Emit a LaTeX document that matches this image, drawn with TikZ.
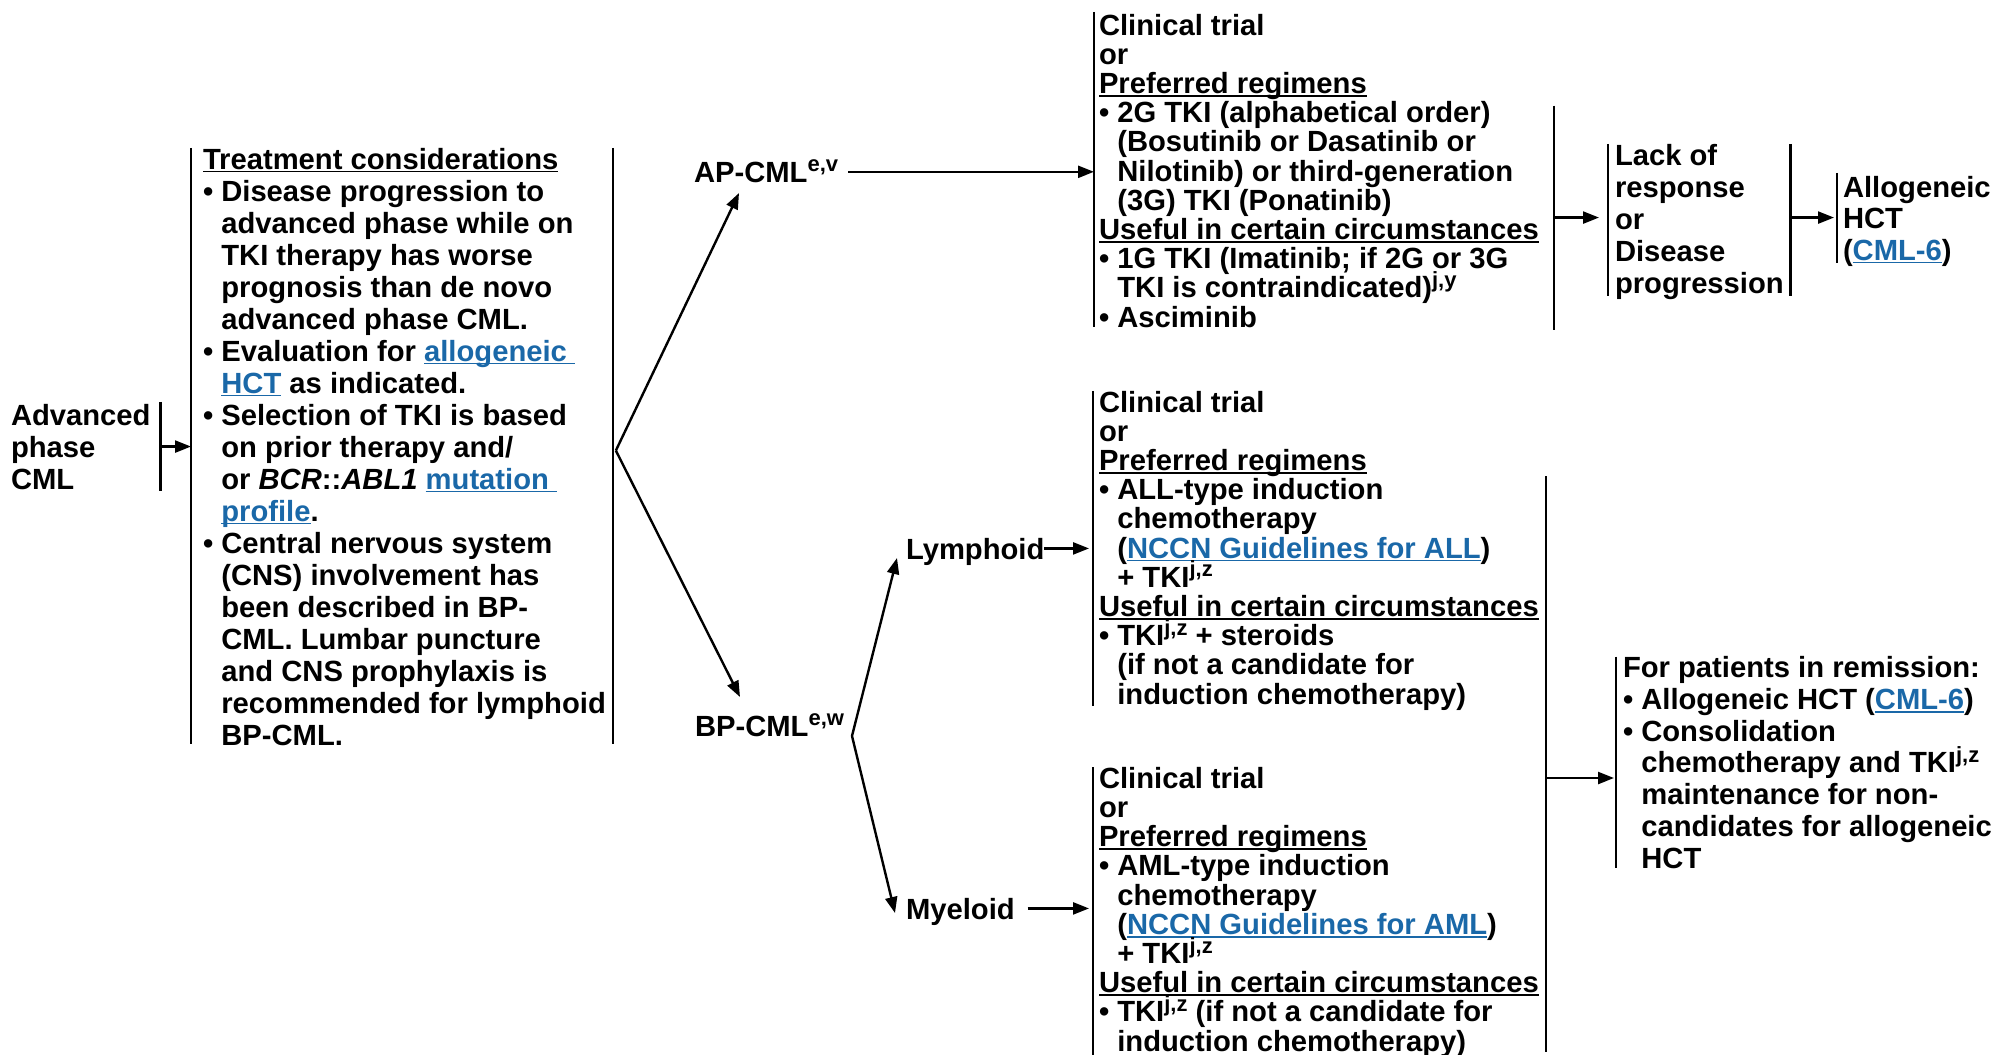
\documentclass[tikz,border=0pt]{standalone}
\usepackage{fontspec}
\setmainfont{Liberation Sans}
\usepackage{xcolor}
\usetikzlibrary{positioning,calc,arrows.meta}
\definecolor{nccnlink}{HTML}{1A68A8}
\newcommand{\fnt}[1]{\bfseries\fontsize{14.6pt}{#1}\selectfont}
\newcommand{\bul}{\textbullet\ }
\newcommand{\ind}{\hphantom{\textbullet\ }}
\newcommand{\ulx}[1]{\setbox0\hbox{#1}\rlap{\rule[-1.7pt]{\wd0}{0.8pt}}\box0}
\newcommand{\lnk}[1]{\textcolor{nccnlink}{\ulx{#1}}}
\newcommand{\note}[1]{\smash{\raisebox{5.2pt}{\fontsize{11pt}{11pt}\selectfont #1}}}
\tikzset{
  bar/.style={line width=1.3pt},
  arr/.style={line width=1.2pt, -{Triangle[length=8pt,width=6pt]}},
}

\begin{document}
\begin{tikzpicture}[x=0.5pt, y=-0.5pt,
  txt/.style={inner xsep=#1, inner ysep=0pt, outer sep=0pt, anchor=base west, align=left},
  txt/.default=0pt,
  lbl/.style={inner sep=0pt, outer sep=0pt, anchor=base west, text depth=0pt, font=\fnt{16pt}}]
\useasboundingbox (0,0) rectangle (1999,1055);

% ---- Entry and treatment considerations (nodes sit on their last baseline) ----
\node[txt=5pt, font=\fnt{16pt}] (adv) at (1,489) {Advanced\\phase\\CML};
\node[txt=6pt, font=\fnt{16pt}] (tc) at (191,745) {\ulx{Treatment considerations}\\
  \bul Disease progression to\\
  \ind advanced phase while on\\
  \ind TKI therapy has worse\\
  \ind prognosis than de novo\\
  \ind advanced phase CML.\\
  \bul Evaluation for \lnk{allogeneic\ }\\
  \ind\lnk{HCT} as indicated.\\
  \bul Selection of TKI is based\\
  \ind on prior therapy and/\\
  \ind or \textit{BCR}::\textit{ABL1} \lnk{mutation\ }\\
  \ind\lnk{profile}.\\
  \bul Central nervous system\\
  \ind (CNS) involvement has\\
  \ind been described in BP-\\
  \ind CML. Lumbar puncture\\
  \ind and CNS prophylaxis is\\
  \ind recommended for lymphoid\\
  \ind BP-CML.};
\draw[bar] ($(adv.north east)+(0,-2)$) -- ($(adv.south east)+(0,2)$);
\draw[bar] (tc.north west) -- ($(tc.south west)+(0,-1)$);
\draw[bar] ($(tc.north east)+(-5,0)$) -- ($(tc.south east)+(-5,-1)$);
\draw[arr] (adv.east) -- (adv.east -| tc.west);

% ---- Phase split ----
\node[lbl] (ap) at (694,182) {AP-CML\note{e,v}};
\node[lbl] (bp) at (695,736) {BP-CML\note{e,w}};
\coordinate (split1) at ($(tc.east)+(-2,4)$);
\draw[arr] (split1) -- ($(ap.base west)+(45,11)$);
\draw[arr] (split1) -- ($(bp.base west)+(45,-39)$);

% ---- AP-CML branch ----
\node[txt=2.5pt, font=\fnt{14.6pt}] (mt) at (1094,327) {Clinical trial\\
  or\\
  \ulx{Preferred regimens}\\
  \bul 2G TKI (alphabetical order)\\
  \ind (Bosutinib or Dasatinib or\\
  \ind Nilotinib) or third-generation\\
  \ind (3G) TKI (Ponatinib)\\
  \ulx{Useful in certain circumstances}\\
  \bul 1G TKI (Imatinib; if 2G or 3G\\
  \ind TKI is contraindicated)\note{j,y}\\
  \bul Asciminib};
\draw[bar] ($(mt.north west)+(0,-2)$) -- (mt.south west);
\draw[arr] ($(ap.east)+(10,0)$) -- (ap.east -| mt.west);
\coordinate (mtout) at ($(mt.east)+(10,47)$);
\draw[bar] ($(mtout)+(0,-112)$) -- ($(mtout)+(0,112)$);

\node[txt=3.5pt, font=\fnt{16pt}] (lr) at (1608,293) {Lack of\\response\\or\\Disease\\progression};
\draw[bar] (lr.north west) -- ($(lr.south west)+(0,-3)$);
\draw[bar] (lr.north east) -- ($(lr.south east)+(0,-3)$);
\draw[arr] (mtout) -- ($(mtout -| lr.west)+(-9,0)$);

\node[txt=3pt, font=\fnt{15.75pt}] (ah) at (1837,260) {Allogeneic\\HCT\\(\lnk{CML-6})};
\draw[bar] ($(ah.north west)+(0,-3)$) -- ($(ah.south west)+(0,-3)$);
\draw[arr] (mtout -| lr.east) -- ($(mtout -| ah.west)+(-3,0)$);

% ---- BP-CML branch ----
\node[lbl] (lyn) at (906,559) {Lymphoid};
\node[lbl] (myn) at (906,919) {Myeloid};
\coordinate (split2) at ($(bp.base east)+(8,0)$);
\draw[arr] (split2) -- ($(lyn.base west)+(-9,-1)$);
\draw[arr] (split2) -- ($(myn.base west)+(-11,-6)$);

\node[txt=3pt, font=\fnt{14.6pt}] (ly) at (1093,704) {Clinical trial\\
  or\\
  \ulx{Preferred regimens}\\
  \bul ALL-type induction\\
  \ind chemotherapy\\
  \ind(\lnk{NCCN Guidelines for ALL})\\
  \ind+ TKI\note{j,z}\\
  \ulx{Useful in certain circumstances}\\
  \bul TKI\note{j,z} + steroids\\
  \ind(if not a candidate for\\
  \ind induction chemotherapy)};
\node[txt=3pt, font=\fnt{14.6pt}] (my) at (1093,1051) {Clinical trial\\
  or\\
  \ulx{Preferred regimens}\\
  \bul AML-type induction\\
  \ind chemotherapy\\
  \ind(\lnk{NCCN Guidelines for AML})\\
  \ind+ TKI\note{j,z}\\
  \ulx{Useful in certain circumstances}\\
  \bul TKI\note{j,z} (if not a candidate for\\
  \ind induction chemotherapy)};
\draw[bar] (ly.north west) -- ($(ly.south west)+(0,-4)$);
\draw[bar] (my.north west) -- (my.south west);
\draw[arr] (lyn.east) -- ($(lyn.east -| ly.west)+(-4,0)$);
\draw[arr] ($(myn.east)+(13,0)$) -- ($(myn.east -| my.west)+(-4,0)$);

\coordinate (bpout) at (1546,778);
\draw[bar] ($(bpout)+(0,-302)$) -- ($(bpout)+(0,274)$);
\node[txt=3.5pt, font=\fnt{15.85pt}] (rm) at (1616,868) {For patients in remission:\\
  \bul Allogeneic HCT (\lnk{CML-6})\\
  \bul Consolidation\\
  \ind chemotherapy and TKI\note{j,z}\\
  \ind maintenance for non-\\
  \ind candidates for allogeneic\\
  \ind HCT};
\draw[bar] (rm.north west) -- (rm.south west);
\draw[arr] (bpout) -- ($(bpout -| rm.west)+(-2,0)$);

\end{tikzpicture}
\end{document}
